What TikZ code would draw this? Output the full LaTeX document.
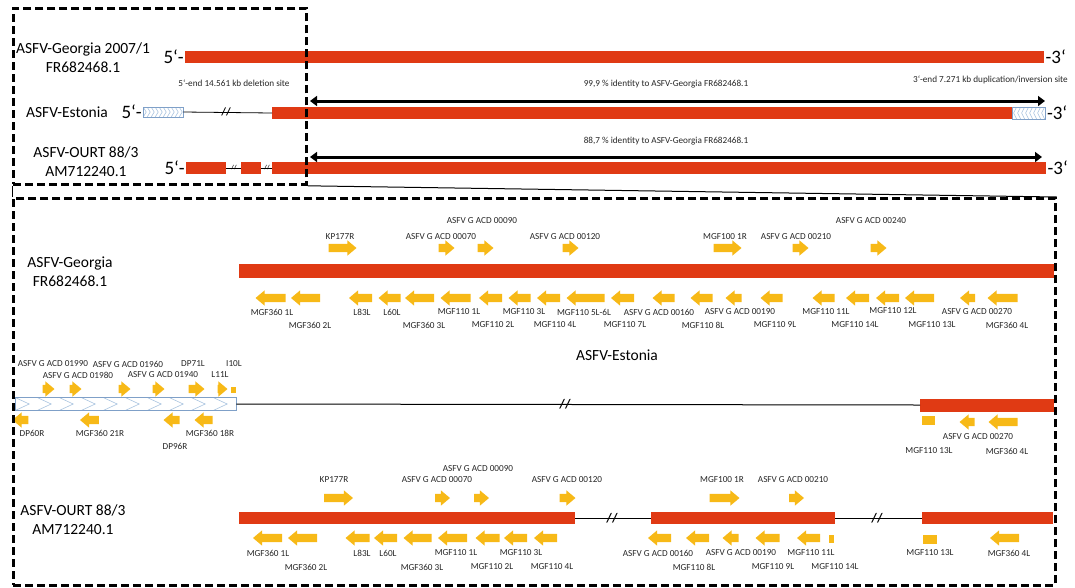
\documentclass[tikz,border=0pt]{standalone}
\usepackage{fontspec}
\setmainfont{Carlito}
\usetikzlibrary{shapes.arrows,arrows.meta}
\definecolor{asfred}{HTML}{E03A14}
\definecolor{geneyel}{HTML}{F7B917}
\definecolor{hatchln}{HTML}{A9C4E0}
\definecolor{hatchbd}{HTML}{7FA0C8}
\tikzset{
  bar/.style={fill=asfred, inner sep=0pt, anchor=west, minimum height=#1},
  gr/.style={shape=single arrow, fill=geneyel, inner xsep=0pt, inner ysep=4pt,
    single arrow head extend=3.5pt, single arrow tip angle=80, minimum height=#1},
  gl/.style={gr=#1, shape border rotate=180},
  gbox/.style={fill=geneyel, inner sep=0pt},
  glab/.style={font=\fontsize{9.2}{10}\selectfont, text=black!85, inner sep=0pt},
  tlab/.style={font=\fontsize{9.2}{10}\selectfont, text=black!85, inner sep=0pt},
  strain/.style={font=\fontsize{15.5}{19}\selectfont, align=center, inner sep=0pt},
  endlab/.style={font=\fontsize{19}{19}\selectfont, inner sep=1pt},
  dbox/.style={draw, line width=2.8pt, dash pattern=on 8pt off 4pt, inner sep=0pt, anchor=north west},
  brk/.style={font=\bfseries\fontsize{#1}{#1}\selectfont, inner sep=0pt},
  idarr/.style={line width=3pt, {Triangle[length=7pt,width=10pt]}-{Triangle[length=7pt,width=10pt]}},
  hatch/.style n args={3}{draw=hatchbd, fill=white, inner sep=0pt, anchor=west, path picture={
      \foreach \k in {0,...,#3}
        \draw[hatchln, line width=0.6pt] ([xshift=\k*#1]path picture bounding box.north west)
          -- ([xshift=\k*#1+(#2)]path picture bounding box.west)
          -- ([xshift=\k*#1]path picture bounding box.south west);}},
}
\begin{document}
\begin{tikzpicture}[x=1pt,y=-1pt]
\useasboundingbox (0,0) rectangle (1075,587);
% whole genomes
\node[strain] (nG) at (83,58) {ASFV-Georgia 2007/1\\FR682468.1};
\node[bar=12pt, minimum width=859pt] (tG) at (185,57) {};
\node[endlab, anchor=east] (tG5) at (tG.west) {5‘-};
\node[endlab, anchor=west] (tG3) at (tG.east) {-3‘};
\node[tlab] (del) at (234,83) {5‘-end 14.561 kb deletion site};
\node[tlab, anchor=east] (dup) at (1068,80) {3‘-end 7.271 kb duplication/inversion site};

\node[strain] (nE) at (67,112) {ASFV-Estonia};
\node[hatch={4pt}{3pt}{12}, minimum width=40pt, minimum height=10pt] (tE1) at (143,112) {};
\node[endlab, anchor=east] (tE5) at (tE1.west) {5‘-};
\node[bar=12pt, minimum width=740pt] (tE2) at (272,113) {};
\node[hatch={4pt}{-3pt}{10}, minimum width=33pt, minimum height=12pt] (tE3) at (tE2.east) {};
\node[endlab, anchor=west] (tE3e) at (tE3.east) {-3‘};
\draw[line width=0.8pt] (tE1.east) -- (tE2.west);
\node[brk=11] (tEb) at (226,112) {//};
\coordinate (idE1) at (310,101);
\coordinate (idE2) at (1045,101);
\draw[idarr] (idE1) -- (idE2);
\node[tlab] (idE) at (666,84) {99,9 \% identity to ASFV-Georgia FR682468.1};

\node[strain] (nO) at (86,162) {ASFV-OURT 88/3\\AM712240.1};
\node[bar=12pt, minimum width=40pt] (tO1) at (186,168) {};
\node[bar=12pt, minimum width=20pt] (tO2) at (241,168) {};
\node[bar=12pt, minimum width=774pt] (tO3) at (272,168) {};
\node[endlab, anchor=east] (tO5) at (tO1.west) {5‘-};
\node[endlab, anchor=west] (tO3e) at (tO3.east) {-3‘};
\draw[line width=0.8pt] (tO1.east) -- (tO2.west);
\draw[line width=0.8pt] (tO2.east) -- (tO3.west);
\node[brk=6] (tOb1) at (234,168) {//};
\node[brk=6] (tOb2) at (267,168) {//};
\coordinate (idO1) at (310,157);
\coordinate (idO2) at (1042,157);
\draw[idarr] (idO1) -- (idO2);
\node[tlab] (idO) at (666,141) {88,7 \% identity to ASFV-Georgia FR682468.1};

% Georgia, left end
\node[strain] (nG2) at (70,272) {ASFV-Georgia\\FR682468.1};
\node[bar=14pt, minimum width=815pt] (G) at (239,271) {};
\node[gr=28pt] (g1) at (340,248) {};  \node[glab] (lg1) at (340,237) {KP177R};
\node[gr=16pt] (g2) at (444,248) {};  \node[glab] (lg2) at (441,237) {ASFV G ACD 00070};
\node[gr=16pt] (g3) at (483,248) {};  \node[glab] (lg3) at (482,221) {ASFV G ACD 00090};
\node[gr=16pt] (g4) at (568,248) {};  \node[glab] (lg4) at (565,237) {ASFV G ACD 00120};
\node[gr=28pt] (g5) at (725,248) {};  \node[glab] (lg5) at (725,237) {MGF100 1R};
\node[gr=16pt] (g6) at (798,248) {};  \node[glab] (lg6) at (796,237) {ASFV G ACD 00210};
\node[gr=16pt] (g7) at (876,248) {};  \node[glab] (lg7) at (871,221) {ASFV G ACD 00240};
\node[gl=30pt] (g8) at (273,298) {};  \node[glab] (lg8) at (272,312) {MGF360 1L};
\node[gl=29pt] (g9) at (308,298) {};  \node[glab] (lg9) at (310,325) {MGF360 2L};
\node[gl=23pt] (g10) at (363,298) {}; \node[glab] (lg10) at (362,312) {L83L};
\node[gl=22pt] (g11) at (392,298) {}; \node[glab] (lg11) at (392,312) {L60L};
\node[gl=29pt] (g12) at (422,298) {}; \node[glab] (lg12) at (424,325) {MGF360 3L};
\node[gl=30pt] (g13) at (458,298) {}; \node[glab] (lg13) at (459,312) {MGF110 1L};
\node[gl=23pt] (g14) at (493,298) {}; \node[glab] (lg14) at (493,325) {MGF110 2L};
\node[gl=22pt] (g15) at (522,298) {}; \node[glab] (lg15) at (524,312) {MGF110 3L};
\node[gl=23pt] (g16) at (551,298) {}; \node[glab] (lg16) at (555,325) {MGF110 4L};
\node[gl=38pt] (g17) at (588,298) {}; \node[glab] (lg17) at (584,312) {MGF110 5L-6L};
\node[gl=23pt] (g18) at (625,298) {}; \node[glab] (lg18) at (625,325) {MGF110 7L};
\node[gl=22pt] (g19) at (666,298) {}; \node[glab] (lg19) at (659,312) {ASFV G ACD 00160};
\node[gl=22pt] (g20) at (704,298) {}; \node[glab] (lg20) at (703,325) {MGF110 8L};
\node[gl=16pt] (g21) at (736,298) {}; \node[glab] (lg21) at (740,312) {ASFV G ACD 00190};
\node[gl=22pt] (g22) at (774,298) {}; \node[glab] (lg22) at (775,325) {MGF110 9L};
\node[gl=22pt] (g23) at (826,298) {}; \node[glab] (lg23) at (826,312) {MGF110 11L};
\node[gl=23pt] (g24) at (860,298) {}; \node[glab] (lg24) at (855,325) {MGF110 14L};
\node[gl=23pt] (g25) at (890,298) {}; \node[glab] (lg25) at (893,311) {MGF110 12L};
\node[gl=29pt] (g26) at (922,298) {}; \node[glab] (lg26) at (932,325) {MGF110 13L};
\node[gl=15pt] (g27) at (970,298) {}; \node[glab] (lg27) at (977,312) {ASFV G ACD 00270};
\node[gl=30pt] (g28) at (1005,298) {}; \node[glab] (lg28) at (1007,325) {MGF360 4L};

% Estonia, left end
\node[strain] (nE2) at (617,355) {ASFV-Estonia};
\node[hatch={22pt}{14pt}{11}, minimum width=221pt, minimum height=13pt] (E1) at (15,404) {};
\node[bar=13pt, minimum width=134pt] (E2) at (920,405) {};
\draw[line width=1pt] (E1.east) -- (E2.west);
\node[brk=13] (Eb) at (565,404) {//};
\node[gr=12pt] (e1) at (46,389) {};  \node[glab] (le1) at (53,364) {ASFV G ACD 01990};
\node[gr=12pt] (e2) at (73,389) {};  \node[glab] (le2) at (78,375) {ASFV G ACD 01980};
\node[gr=12pt] (e3) at (122,389) {}; \node[glab] (le3) at (128,364) {ASFV G ACD 01960};
\node[gr=12pt] (e4) at (156,389) {}; \node[glab] (le4) at (163,375) {ASFV G ACD 01940};
\node[gr=16pt] (e5) at (194,389) {}; \node[glab] (le5) at (193,364) {DP71L};
\node[gr=10pt] (e6) at (220,389) {}; \node[glab] (le6) at (220,375) {L11L};
\node[gbox, minimum width=5pt, minimum height=6pt] (e7) at (233.5,390) {}; \node[glab] (le7) at (234,364) {I10L};
\node[gl=16pt] (e8) at (23,420) {};  \node[glab] (le8) at (32,433) {DP60R};
\node[gl=19pt] (e9) at (92,420) {};  \node[glab] (le9) at (100,433) {MGF360 21R};
\node[gl=16pt] (e10) at (174,420) {}; \node[glab] (le10) at (175,446) {DP96R};
\node[gl=18pt] (e11) at (206,420) {}; \node[glab] (le11) at (210,433) {MGF360 18R};
\node[gbox, minimum width=13pt, minimum height=9pt] (e12) at (928.5,420.5) {}; \node[glab] (le12) at (929,451) {MGF110 13L};
\node[gl=15pt] (e13) at (969.5,422) {}; \node[glab] (le13) at (978,437) {ASFV G ACD 00270};
\node[gl=29pt] (e14) at (1005.5,422) {}; \node[glab] (le14) at (1007,451) {MGF360 4L};

% OURT, left end
\node[strain] (nO2) at (73,520) {ASFV-OURT 88/3\\AM712240.1};
\node[bar=12pt, minimum width=336pt] (O1) at (239,518) {};
\node[bar=12pt, minimum width=184pt] (O2) at (651,518) {};
\node[bar=12pt, minimum width=131pt] (O3) at (922,518) {};
\draw[line width=1pt] (O1.east) -- (O2.west);
\draw[line width=1pt] (O2.east) -- (O3.west);
\node[brk=13] (Ob1) at (612,518) {//};
\node[brk=13] (Ob2) at (877,518) {//};
\node[gr=29pt] (o1) at (336,498) {};  \node[glab] (lo1) at (334,480) {KP177R};
\node[gr=15pt] (o2) at (440,498) {};  \node[glab] (lo2) at (437,480) {ASFV G ACD 00070};
\node[gr=15pt] (o3) at (479,498) {};  \node[glab] (lo3) at (478,469) {ASFV G ACD 00090};
\node[gr=16pt] (o4) at (565,498) {};  \node[glab] (lo4) at (567,480) {ASFV G ACD 00120};
\node[gr=30pt] (o5) at (722,498) {};  \node[glab] (lo5) at (722,480) {MGF100 1R};
\node[gr=15pt] (o6) at (794,498) {};  \node[glab] (lo6) at (793,480) {ASFV G ACD 00210};
\node[gl=29pt] (o7) at (270,538) {};  \node[glab] (lo7) at (268,553) {MGF360 1L};
\node[gl=29pt] (o8) at (305,538) {};  \node[glab] (lo8) at (306,567) {MGF360 2L};
\node[gl=24pt] (o9) at (360,538) {};  \node[glab] (lo9) at (362,553) {L83L};
\node[gl=23pt] (o10) at (388,538) {}; \node[glab] (lo10) at (388,553) {L60L};
\node[gl=28pt] (o11) at (420,538) {}; \node[glab] (lo11) at (422,567) {MGF360 3L};
\node[gl=29pt] (o12) at (455,538) {}; \node[glab] (lo12) at (456,553) {MGF110 1L};
\node[gl=24pt] (o13) at (490,538) {}; \node[glab] (lo13) at (492,567) {MGF110 2L};
\node[gl=23pt] (o14) at (518,538) {}; \node[glab] (lo14) at (521,553) {MGF110 3L};
\node[gl=23pt] (o15) at (548,538) {}; \node[glab] (lo15) at (552,567) {MGF110 4L};
\node[gl=23pt] (o16) at (662,538) {}; \node[glab] (lo16) at (658,553) {ASFV G ACD 00160};
\node[gl=23pt] (o17) at (700,538) {}; \node[glab] (lo17) at (694,567) {MGF110 8L};
\node[gl=16pt] (o18) at (733,538) {}; \node[glab] (lo18) at (741,553) {ASFV G ACD 00190};
\node[gl=24pt] (o19) at (770,538) {}; \node[glab] (lo19) at (773,567) {MGF110 9L};
\node[gl=23pt] (o20) at (811,538) {}; \node[glab] (lo20) at (811,553) {MGF110 11L};
\node[gbox, minimum width=5pt, minimum height=8pt] (o21) at (831.5,539) {}; \node[glab] (lo21) at (835,567) {MGF110 14L};
\node[gbox, minimum width=14pt, minimum height=9pt] (o22) at (930,539) {}; \node[glab] (lo22) at (930,553) {MGF110 13L};
\node[gl=29pt] (o23) at (1007,538) {}; \node[glab] (lo23) at (1009,553) {MGF360 4L};

% frames
\node[dbox, minimum width=293pt, minimum height=176pt] (topbox) at (12,7) {};
\node[dbox, minimum width=1042pt, minimum height=387pt] (lowbox) at (12,197) {};
\draw[line width=1pt] (topbox.south west) -- (lowbox.north west);
\draw[line width=1pt] (topbox.south east) -- (lowbox.north east);
\end{tikzpicture}
\end{document}
